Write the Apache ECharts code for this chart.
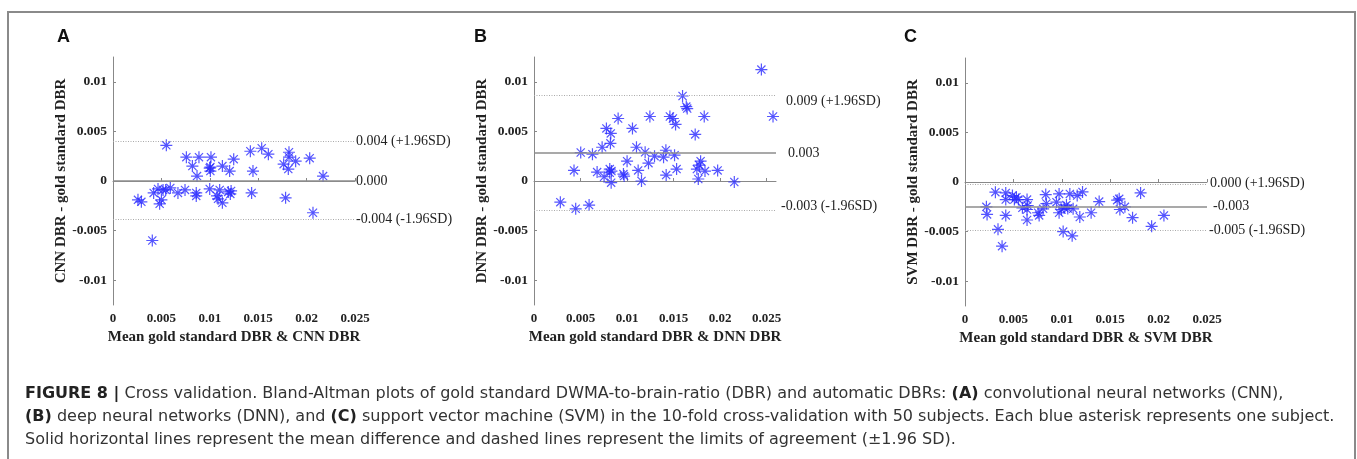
<!DOCTYPE html>
<html>
<head>
<meta charset="utf-8">
<script src="https://cdn.jsdelivr.net/npm/echarts@6/dist/echarts.min.js"></script>
<style>
html,body{margin:0;padding:0;background:#fff;}
#chart{width:1357px;height:459px;}
</style>
</head>
<body>
<div id="chart"></div>
<script>
// Bland-Altman data: x = mean of the two DBRs, y = difference
var cnnMean = [0.00258,0.00293,0.00406,0.0042,0.00465,0.00482,0.005,0.00517,0.00544,0.00551,0.00592,0.00671,0.00744,0.00758,0.0082,0.0086,0.0086,0.00868,0.00888,0.00999,0.00999,0.01006,0.01012,0.01074,0.01085,0.01102,0.0113,0.0113,0.01191,0.01205,0.01212,0.01247,0.01419,0.01432,0.01446,0.01536,0.01605,0.01763,0.01783,0.01818,0.01811,0.01818,0.01887,0.02032,0.02066,0.0217,0.01006,0.0122];
var cnnDiff = [-0.0019,-0.0021,-0.006,-0.0012,-0.0008,-0.0023,-0.0019,-0.0009,-0.0009,0.0036,-0.0007,-0.0012,-0.0009,0.0024,0.0015,-0.0012,-0.0015,0.0005,0.0024,-0.0008,0.0013,0.0014,0.0024,-0.0015,-0.0018,-0.0009,-0.0022,0.0015,-0.0011,0.001,-0.0013,0.0022,0.003,-0.0012,0.001,0.0033,0.0027,0.0017,-0.0017,0.0029,0.0012,0.0024,0.002,0.0023,-0.0032,0.0005,0.001,-0.001];

var dnnMean = [0.00283,0.0043,0.00448,0.00502,0.00592,0.00628,0.00678,0.00732,0.00753,0.00778,0.00814,0.00821,0.00825,0.00829,0.00814,0.00904,0.00961,0.00968,0.01,0.01058,0.01101,0.01119,0.01155,0.01194,0.0123,0.01245,0.01295,0.01392,0.01417,0.0142,0.0146,0.01492,0.0151,0.01521,0.01532,0.01596,0.01636,0.01646,0.01732,0.0175,0.01765,0.01776,0.0179,0.01829,0.01837,0.01973,0.02152,0.02443,0.02568,0.00832];
var dnnDiff = [-0.00213,0.00107,-0.0028,0.00287,-0.00243,0.0027,0.0009,0.0034,0.00043,0.0053,0.0012,0.0038,0.0048,-0.00017,0.00083,0.0063,0.0007,0.0005,0.002,0.0053,0.0034,0.00107,0.0,0.0029,0.0018,0.0065,0.0025,0.0024,0.0031,0.0006,0.0065,0.0063,0.0026,0.0057,0.0012,0.00857,0.0075,0.0073,0.0047,0.0012,0.0002,0.0016,0.002,0.0065,0.001,0.00107,-0.0001,0.01123,0.0065,0.001];

var svmMean = [0.00221,0.00228,0.00314,0.00341,0.00383,0.00421,0.00421,0.00421,0.0049,0.0051,0.00531,0.00552,0.00593,0.00641,0.00648,0.00641,0.00641,0.00755,0.00766,0.00807,0.00834,0.00841,0.00945,0.00972,0.00972,0.00997,0.01014,0.01024,0.01048,0.01083,0.01107,0.01117,0.01159,0.01186,0.01214,0.01303,0.01386,0.01572,0.01593,0.016,0.01652,0.01731,0.01814,0.01928,0.02055,0.01062];
var svmDiff = [-0.0025,-0.00327,-0.00103,-0.00477,-0.00647,-0.0011,-0.00177,-0.00337,-0.00137,-0.00177,-0.00153,-0.00177,-0.0026,-0.00177,-0.00237,-0.00277,-0.00383,-0.0031,-0.00337,-0.0027,-0.00127,-0.00217,-0.00203,-0.0012,-0.0031,-0.00277,-0.005,-0.0026,-0.00233,-0.0012,-0.00543,-0.0027,-0.00137,-0.00353,-0.001,-0.0031,-0.00197,-0.00183,-0.0017,-0.00277,-0.0025,-0.0036,-0.0011,-0.00447,-0.00337,-0.00267];

// mean difference and limits of agreement (value, label)
var cnnLines = [0.0, 0.00398, -0.0039];
var dnnLines = [0.00283, 0.0086, -0.00293];
var svmLines = [-0.00253, -0.0002, -0.00487];
var cnnLineLabels = ['0.000', '0.004 (+1.96SD)', '-0.004 (-1.96SD)'];
var dnnLineLabels = ['0.003', '0.009 (+1.96SD)', '-0.003 (-1.96SD)'];
var svmLineLabels = ['-0.003', '0.000 (+1.96SD)', '-0.005 (-1.96SD)'];

var yTicks = [-0.01, -0.005, 0, 0.005, 0.01];
var xTicks = [0, 0.005, 0.01, 0.015, 0.02, 0.025];
var xMax = [0.025, 0.026, 0.025];
var yNames = ['CNN DBR - gold standard DBR', 'DNN DBR - gold standard DBR', 'SVM DBR - gold standard DBR'];
var xNames = ['Mean gold standard DBR & CNN DBR', 'Mean gold standard DBR & DNN DBR', 'Mean gold standard DBR & SVM DBR'];
var panelLetters = ['A', 'B', 'C'];

var serif = '"Liberation Serif", "Times New Roman", serif';
var sans = '"Liberation Sans", Arial, sans-serif';
var capSans = '"DejaVu Sans", "Liberation Sans", sans-serif';
var asterisk = 'path://M0,5L10,5M5,0L5,10M1.6,1.6L8.4,8.4M8.4,1.6L1.6,8.4';

var gridPos = [
  {left: 113, top: 57, width: 242, height: 248},
  {left: 534, top: 57, width: 242, height: 248},
  {left: 965, top: 58, width: 242, height: 248}
];

var myChart = echarts.init(document.getElementById('chart'));

var grids = [], xAxes = [], yAxes = [], series = [];
var means = [cnnMean, dnnMean, svmMean];
var diffs = [cnnDiff, dnnDiff, svmDiff];
var lines = [cnnLines, dnnLines, svmLines];
var lineLabels = [cnnLineLabels, dnnLineLabels, svmLineLabels];
// small vertical nudges of the right-hand labels, as in the figure
var labelNudge = [[0, 0, 0], [0, 6, -4], [-1, -1, 0]];
var labelGap = [[1, 1, 1], [12, 10, 5], [6, 3, 2]];

for (var p = 0; p < 3; p++) {
  grids.push(gridPos[p]);
  xAxes.push({
    gridIndex: p, type: 'value', min: 0, max: xMax[p],
    name: xNames[p], nameLocation: 'middle', nameGap: 25,
    nameTextStyle: {fontFamily: serif, fontWeight: 'bold', fontSize: 15, color: '#222'},
    axisLine: {lineStyle: {color: '#888', width: 1}},
    axisTick: {inside: true, length: 3, lineStyle: {color: '#888'}, customValues: xTicks},
    axisLabel: {fontFamily: serif, fontWeight: 'bold', fontSize: 13, color: '#222', margin: 7, customValues: xTicks,
      formatter: function (v) { return String(+v.toFixed(4)); }},
    splitLine: {show: false}
  });
  yAxes.push({
    gridIndex: p, type: 'value', min: -0.0125, max: 0.0125,
    name: yNames[p], nameLocation: 'middle', nameGap: 42, nameRotate: 90,
    nameTextStyle: {fontFamily: serif, fontWeight: 'bold', fontSize: 15, color: '#222'},
    axisLine: {show: true, lineStyle: {color: '#888', width: 1}},
    axisTick: {show: true, inside: true, length: 3, lineStyle: {color: '#888'}, customValues: yTicks},
    axisLabel: {fontFamily: serif, fontWeight: 'bold', fontSize: 13.5, color: '#222', margin: 6, customValues: yTicks,
      formatter: function (v) { return String(+v.toFixed(4)); }},
    splitLine: {show: false}
  });
  var pts = [];
  for (var i = 0; i < means[p].length; i++) pts.push([means[p][i], diffs[p][i]]);
  var ml = [];
  for (var k = 0; k < 3; k++) {
    ml.push({
      yAxis: lines[p][k],
      lineStyle: k === 0 ? {color: '#8c8c8c', width: 1.5, type: 'solid'} : {color: '#aaa', width: 1, type: [1, 1.5]},
      label: {show: true, position: 'end', formatter: lineLabels[p][k], distance: labelGap[p][k],
        offset: [0, labelNudge[p][k]],
        fontFamily: serif, fontSize: 14, color: '#222'}
    });
  }
  series.push({
    type: 'scatter', xAxisIndex: p, yAxisIndex: p,
    symbol: asterisk, symbolSize: 12,
    itemStyle: {color: 'rgba(0,0,0,0)', borderColor: '#2b2bff', borderWidth: 1.2, opacity: 0.8},
    data: pts,
    markLine: {silent: true, symbol: 'none', animation: false, precision: 6, data: ml},
    z: 3
  });
}

var graphics = [
  {type: 'polyline', shape: {points: [[8, 470], [8, 12], [1355, 12], [1355, 470]]},
   style: {stroke: '#8a8a8a', lineWidth: 2, fill: null}}
];
var letterX = [57, 474, 904];
for (var j = 0; j < 3; j++) {
  graphics.push({type: 'text', left: letterX[j], top: 28,
    style: {text: panelLetters[j], font: 'bold 18px ' + sans, fill: '#111'}});
}
var captionStyle = {
  font: '16px ' + capSans, fill: '#333',
  rich: {b: {fontWeight: 'bold', fontFamily: capSans, fontSize: 16, fill: '#222'}}
};
var captionLines = [
  '{b|FIGURE 8 |} Cross validation. Bland-Altman plots of gold standard DWMA-to-brain-ratio (DBR) and automatic DBRs: {b|(A)} convolutional neural networks (CNN),',
  '{b|(B)} deep neural networks (DNN), and {b|(C)} support vector machine (SVM) in the 10-fold cross-validation with 50 subjects. Each blue asterisk represents one subject.',
  'Solid horizontal lines represent the mean difference and dashed lines represent the limits of agreement (\u00b11.96 SD).'
];
for (var c = 0; c < captionLines.length; c++) {
  graphics.push({type: 'text', left: 25, top: 386 + c * 23,
    style: echarts.util.extend({text: captionLines[c]}, captionStyle)});
}

var option = {
  animation: false,
  backgroundColor: '#fff',
  grid: grids,
  xAxis: xAxes,
  yAxis: yAxes,
  series: series,
  graphic: graphics
};
myChart.setOption(option, true);
</script>
</body>
</html>
